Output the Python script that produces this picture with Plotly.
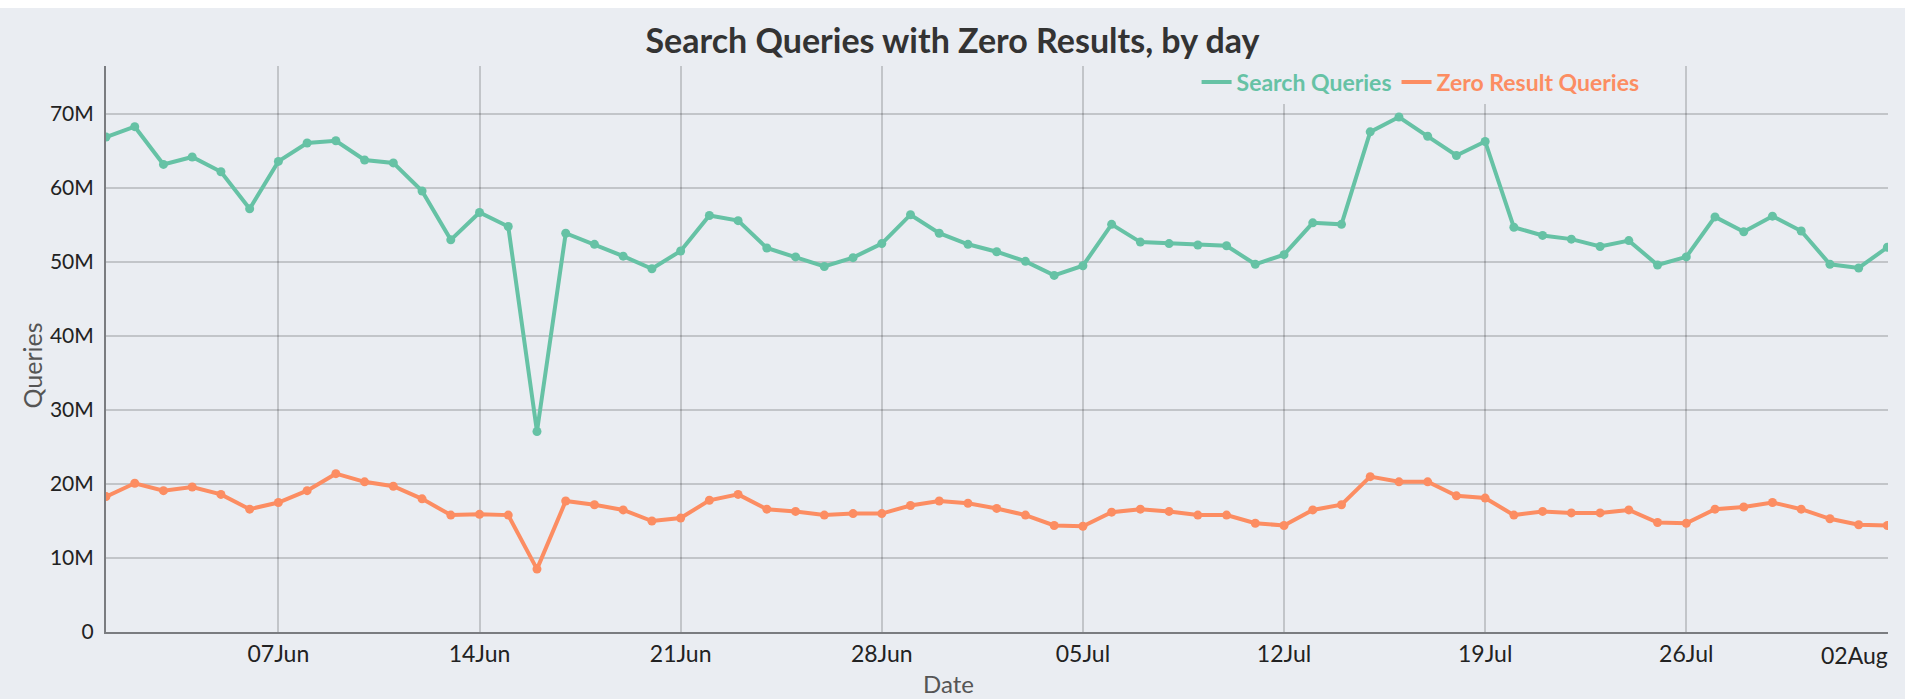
import pandas as pd
import plotly.graph_objects as go

# ---- data ----
start_date = "2021-06-01"
dates = pd.date_range(start_date, periods=63, freq="D")

search_queries_m = [66.9, 68.3, 63.2, 64.2, 62.2, 57.2, 63.6, 66.1, 66.4, 63.8,
                    63.4, 59.6, 53.0, 56.7, 54.8, 27.1, 53.9, 52.4, 50.8, 49.1,
                    51.5, 56.3, 55.6, 51.9, 50.7, 49.4, 50.6, 52.5, 56.4, 53.9,
                    52.4, 51.4, 50.1, 48.2, 49.5, 55.1, 52.7, 52.5, 52.3, 52.2,
                    49.7, 51.0, 55.3, 55.1, 67.6, 69.6, 67.0, 64.4, 66.3, 54.7,
                    53.6, 53.1, 52.1, 52.9, 49.6, 50.7, 56.1, 54.1, 56.2, 54.2,
                    49.7, 49.2, 52.0]

zero_result_m = [18.3, 20.1, 19.1, 19.6, 18.6, 16.6, 17.5, 19.1, 21.4, 20.3,
                 19.7, 18.0, 15.8, 15.9, 15.8, 8.5, 17.7, 17.2, 16.5, 15.0,
                 15.4, 17.8, 18.6, 16.6, 16.3, 15.8, 16.0, 16.0, 17.1, 17.7,
                 17.4, 16.7, 15.8, 14.4, 14.3, 16.2, 16.6, 16.3, 15.8, 15.8,
                 14.7, 14.4, 16.5, 17.2, 21.0, 20.3, 20.3, 18.4, 18.1, 15.8,
                 16.3, 16.1, 16.1, 16.5, 14.8, 14.7, 16.6, 16.9, 17.5, 16.6,
                 15.3, 14.5, 14.4]

tick_dates = ["2021-06-07", "2021-06-14", "2021-06-21", "2021-06-28",
              "2021-07-05", "2021-07-12", "2021-07-19", "2021-07-26"]
last_tick_date = "2021-08-02"
last_tick_label = "02Aug"

series_names = ["Search Queries", "Zero Result Queries"]
series_colors = ["#66c2a5", "#fc8d62"]

BG = "#eaedf2"
FONT = "Lato"
GRID = "rgba(0,0,0,0.17)"

fig = go.Figure()
for name, color, vals in zip(series_names, series_colors,
                             [search_queries_m, zero_result_m]):
    fig.add_trace(go.Scatter(
        x=dates, y=[v * 1e6 for v in vals], mode="lines+markers",
        name=name, legendgroup=name, showlegend=False,
        line=dict(color=color, width=4),
        marker=dict(color=color, size=9),
    ))
    # legend entry (line only)
    fig.add_trace(go.Scatter(
        x=[None], y=[None], mode="lines", legendgroup=name,
        name=f"<b><span style='color:{color}'>{name}</span></b>",
        line=dict(color=color, width=4),
    ))

fig.update_layout(
    width=1905, height=691,
    margin=dict(l=106, r=17, t=58, b=67),
    paper_bgcolor=BG, plot_bgcolor=BG,
    font=dict(family=FONT, color="#222222", size=21),
    title=dict(text="<b>Search Queries with Zero Results, by day</b>",
               x=0.5, xanchor="center", y=0.952, yanchor="middle",
               font=dict(family=FONT, size=34, color="#333333")),
    legend=dict(orientation="h", x=0.612, xanchor="left", y=0.9717,
                yanchor="middle", bgcolor=BG,
                font=dict(family=FONT, size=23), itemclick=False),
    showlegend=True,
    annotations=[
        dict(text="Date", xref="paper", yref="paper", x=0.473, y=-0.0905,
             xanchor="center", yanchor="middle", showarrow=False,
             font=dict(family=FONT, size=24, color="#555555")),
        dict(text="Queries", xref="paper", yref="paper", x=-0.0418, y=0.470,
             xanchor="center", yanchor="middle", showarrow=False, textangle=-90,
             font=dict(family=FONT, size=25, color="#555555")),
        # last tick label, pulled inside the figure edge as in the reference
        dict(text=last_tick_label, xref="x", yref="paper", x=last_tick_date,
             y=0, yanchor="top", xanchor="right", xshift=3, yshift=-7,
             showarrow=False, font=dict(family=FONT, size=23, color="#222222")),
    ],
)

fig.update_xaxes(
    range=[dates[0], pd.Timestamp(dates[-1]) + pd.Timedelta(minutes=30)],
    tickformat="%d%b", tickmode="array", tickvals=tick_dates,
    showgrid=True, gridcolor=GRID, gridwidth=2,
    showline=True, linecolor="#7a7c80", linewidth=2,
    ticks="", ticklen=0, ticklabelstandoff=0,
    tickfont=dict(size=23, color="#222222"),
    zeroline=False,
)
fig.update_yaxes(
    range=[0, 76.5e6], tickformat="~s", dtick=10e6,
    showgrid=True, gridcolor=GRID, gridwidth=2,
    showline=True, linecolor="#7a7c80", linewidth=2,
    ticks="", ticklabelstandoff=6,
    tickfont=dict(size=21, color="#222222"),
    zeroline=False,
)

fig.write_html("out.html", post_script="document.body.style.margin='8px 0 0 0';")
